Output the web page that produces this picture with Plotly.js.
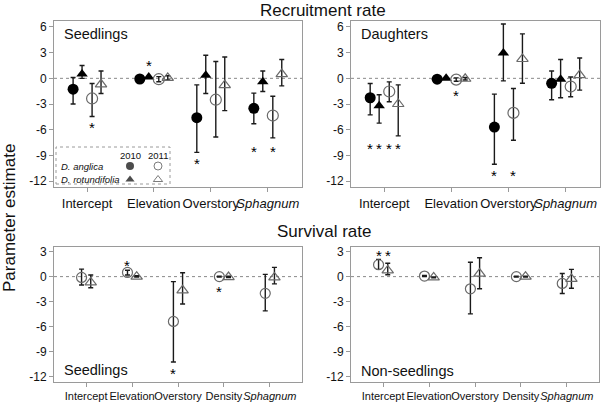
<!DOCTYPE html>
<html><head><meta charset="utf-8">
<script src="https://cdn.plot.ly/plotly-3.0.1.min.js"></script>
<style>html,body{margin:0;padding:0;background:#fff}#chart{width:609px;height:402px}</style>
</head><body><div id="chart"></div>
<script>
// ---------- DATA ----------
const recruitCats = ['Intercept', 'Elevation', 'Overstory', '<i>Sphagnum</i>'];
const survivalCats = ['Intercept', 'Elevation', 'Overstory', 'Density', '<i>Sphagnum</i>'];
const recruitTicks = [-12, -9, -6, -3, 0, 3, 6];
const recruitTickText = ['-12', '-9', '-6', '-3', '0', '3', '6'];
const survivalTicks = [-12, -9, -6, -3, 0, 3];
const survivalTickText = ['-12', '-9', '-6', '-3', '0', '3'];

// Recruitment rate - Seedlings
const recSeedAng2010Est = [-1.27, -0.08, -4.6, -3.5];
const recSeedAng2010Lo  = [-3.0, -0.12, -8.65, -5.3];
const recSeedAng2010Hi  = [0.1, -0.04, -0.77, -1.73];
const recSeedAng2010Sig = [null, null, -9.65, -8.2];
const recSeedRot2010Est = [0.5, 0.15, 0.35, -0.4];
const recSeedRot2010Lo  = [0.0, 0.1, -1.77, -1.54];
const recSeedRot2010Hi  = [1.5, 0.2, 2.7, 0.85];
const recSeedRot2010Sig = [null, 1.8, null, null];
const recSeedAng2011Est = [-2.35, -0.1, -2.5, -4.35];
const recSeedAng2011Lo  = [-4.46, -0.4, -6.85, -6.96];
const recSeedAng2011Hi  = [-0.6, 0.2, 1.96, -2.1];
const recSeedAng2011Sig = [-5.4, null, null, -8.25];
const recSeedRot2011Est = [-0.7, 0.05, -0.8, 0.5];
const recSeedRot2011Lo  = [-1.77, -0.2, -3.77, -0.88];
const recSeedRot2011Hi  = [0.85, 0.3, 2.5, 2.2];
const recSeedRot2011Sig = [null, null, null, null];

// Recruitment rate - Daughters
const recDauAng2010Est = [-2.27, -0.1, -5.7, -0.58];
const recDauAng2010Lo  = [-4.27, -0.2, -10.04, -2.5];
const recDauAng2010Hi  = [-0.6, 0.0, -1.85, 0.85];
const recDauAng2010Sig = [-7.8, null, -11.0, null];
const recDauRot2010Est = [-3.2, 0.0, 2.95, -0.1];
const recDauRot2010Lo  = [-5.23, -0.05, -0.3, -2.27];
const recDauRot2010Hi  = [-1.92, 0.05, 6.35, 2.2];
const recDauRot2010Sig = [-7.8, null, null, null];
const recDauAng2011Est = [-1.54, -0.15, -4.04, -0.96];
const recDauAng2011Lo  = [-2.73, -0.35, -7.23, -2.15];
const recDauAng2011Hi  = [-0.42, 0.05, -1.19, 0.15];
const recDauAng2011Sig = [-7.8, -1.65, -11.0, null];
const recDauRot2011Est = [-3.0, -0.05, 2.26, 0.38];
const recDauRot2011Lo  = [-6.73, -0.2, -0.58, -1.38];
const recDauRot2011Hi  = [-0.77, 0.1, 5.2, 2.38];
const recDauRot2011Sig = [-7.8, null, null, null];

// Survival rate - Seedlings (2011 only)
const surSeedAngEst = [-0.1, 0.5, -5.36, 0.0, -2.0];
const surSeedAngLo  = [-1.0, 0.2, -10.2, -0.05, -4.1];
const surSeedAngHi  = [0.9, 0.76, -0.6, 0.05, 0.27];
const surSeedAngSig = [null, 1.7, -11.2, -1.44, null];
const surSeedRotEst = [-0.7, 0.0, -1.64, -0.05, -0.1];
const surSeedRotLo  = [-1.33, -0.05, -3.27, -0.1, -0.87];
const surSeedRotHi  = [0.2, 0.1, 0.46, 0.05, 1.1];
const surSeedRotSig = [null, null, null, null, null];

// Survival rate - Non-seedlings (2011 only)
const surNonAngEst = [1.42, 0.07, -1.46, 0.0, -0.82];
const surNonAngLo  = [0.86, 0.0, -4.46, -0.05, -2.02];
const surNonAngHi  = [2.06, 0.15, 1.72, 0.05, 0.37];
const surNonAngSig = [2.9, null, null, null, null];
const surNonRotEst = [0.74, -0.1, 0.36, 0.0, -0.27];
const surNonRotLo  = [0.22, -0.15, -1.46, -0.05, -1.39];
const surNonRotHi  = [1.6, -0.05, 2.25, 0.05, 0.86];
const surNonRotSig = [2.9, null, null, null, null];

// ---------- LAYOUT CONSTANTS ----------
const FONT = 'Liberation Sans, Arial, Helvetica, sans-serif';
const W = 609, H = 402;
const topGroupPos = [0.58, 1.75, 2.75, 3.75];
const topRange = [0, 4.35];
const topOffsets = [-0.245, -0.088, 0.088, 0.245];
const botGroupPos = [0.7, 1.7, 2.7, 3.7, 4.7];
const botRange = [0, 5.4];
const botOffsets = [-0.1, 0.1];
const px = (a, b) => [a / W, b / W];
const py = (top, bottom) => [1 - bottom / H, 1 - top / H];

const styles = {
  ang2010: {symbol: 'circle', color: '#000', size: 11, line: {width: 0}},
  rot2010: {symbol: 'triangle-up', color: '#000', size: 10, line: {width: 0}},
  ang2011: {symbol: 'circle-open', color: '#6a6a6a', size: 11, line: {width: 1.2, color: '#6a6a6a'}},
  rot2011: {symbol: 'triangle-up-open', color: '#6a6a6a', size: 10, line: {width: 1.2, color: '#6a6a6a'}}
};

const traces = [];
const annotations = [];

function addSeries(est, lo, hi, sig, groupPos, offset, style, xa, ya, sz) {
  const xs = est.map((_, i) => groupPos[i] + offset);
  traces.push({
    type: 'scatter', mode: 'markers', x: xs, y: est, xaxis: xa, yaxis: ya,
    marker: {symbol: style.symbol, color: style.color, size: sz || style.size, line: style.line},
    error_y: {type: 'data', symmetric: false,
      array: hi.map((h, i) => h - est[i]), arrayminus: lo.map((l, i) => est[i] - l),
      color: '#1a1a1a', thickness: 1.4, width: 2.5},
    showlegend: false, hoverinfo: 'skip', cliponaxis: false
  });
  sig.forEach((s, i) => {
    if (s === null) return;
    annotations.push({xref: xa, yref: ya, x: xs[i], y: s, text: '*', showarrow: false,
      font: {family: FONT, size: 15, color: '#000000'}, yshift: -3});
  });
}

// top-left
addSeries(recSeedAng2010Est, recSeedAng2010Lo, recSeedAng2010Hi, recSeedAng2010Sig, topGroupPos, topOffsets[0], styles.ang2010, 'x', 'y');
addSeries(recSeedRot2010Est, recSeedRot2010Lo, recSeedRot2010Hi, recSeedRot2010Sig, topGroupPos, topOffsets[1], styles.rot2010, 'x', 'y');
addSeries(recSeedAng2011Est, recSeedAng2011Lo, recSeedAng2011Hi, recSeedAng2011Sig, topGroupPos, topOffsets[2], styles.ang2011, 'x', 'y');
addSeries(recSeedRot2011Est, recSeedRot2011Lo, recSeedRot2011Hi, recSeedRot2011Sig, topGroupPos, topOffsets[3], styles.rot2011, 'x', 'y');
// top-right
addSeries(recDauAng2010Est, recDauAng2010Lo, recDauAng2010Hi, recDauAng2010Sig, topGroupPos, topOffsets[0], styles.ang2010, 'x2', 'y2');
addSeries(recDauRot2010Est, recDauRot2010Lo, recDauRot2010Hi, recDauRot2010Sig, topGroupPos, topOffsets[1], styles.rot2010, 'x2', 'y2');
addSeries(recDauAng2011Est, recDauAng2011Lo, recDauAng2011Hi, recDauAng2011Sig, topGroupPos, topOffsets[2], styles.ang2011, 'x2', 'y2');
addSeries(recDauRot2011Est, recDauRot2011Lo, recDauRot2011Hi, recDauRot2011Sig, topGroupPos, topOffsets[3], styles.rot2011, 'x2', 'y2');
// bottom-left
addSeries(surSeedAngEst, surSeedAngLo, surSeedAngHi, surSeedAngSig, botGroupPos, botOffsets[0], styles.ang2011, 'x3', 'y3', 10);
addSeries(surSeedRotEst, surSeedRotLo, surSeedRotHi, surSeedRotSig, botGroupPos, botOffsets[1], styles.rot2011, 'x3', 'y3', 10);
// bottom-right
addSeries(surNonAngEst, surNonAngLo, surNonAngHi, surNonAngSig, botGroupPos, botOffsets[0], styles.ang2011, 'x4', 'y4', 10);
addSeries(surNonRotEst, surNonRotLo, surNonRotHi, surNonRotSig, botGroupPos, botOffsets[1], styles.rot2011, 'x4', 'y4', 10);

// legend glyphs (pixel-space overlay axis)
traces.push({type: 'scatter', mode: 'markers', xaxis: 'x5', yaxis: 'y5',
  x: [130, 158, 130, 158], y: [166, 166, 179.5, 179.5],
  marker: {symbol: ['circle', 'circle-open', 'triangle-up', 'triangle-up-open'], size: [8, 8, 8, 8],
    color: ['#000', '#444', '#000', '#444'], line: {width: [0, 1, 0, 1], color: '#444'}},
  showlegend: false, hoverinfo: 'skip', cliponaxis: false});

function xAxis(domain, range, vals, text, size) {
  return {domain: domain, range: range, tickvals: vals, ticktext: text, tickangle: 0, showgrid: false, zeroline: false,
    showline: true, mirror: true, linecolor: '#9a9a9a', linewidth: 1, ticks: 'outside', ticklen: 4,
    tickcolor: '#9a9a9a', tickfont: {family: FONT, size: size, color: '#111'}, fixedrange: true};
}
function yAxis(domain, range, vals, text, anchor) {
  return {domain: domain, range: range, tickvals: vals, ticktext: text, anchor: anchor, showgrid: false,
    zeroline: false, showline: true, mirror: true, linecolor: '#9a9a9a', linewidth: 1, ticks: 'outside',
    ticklen: 4, tickcolor: '#9a9a9a', tickfont: {family: FONT, size: 12, color: '#111'}, fixedrange: true};
}

const layout = {
  width: W, height: H, margin: {l: 0, r: 0, t: 0, b: 0}, paper_bgcolor: '#fff', plot_bgcolor: 'rgba(0,0,0,0)',
  showlegend: false,
  xaxis: Object.assign(xAxis(px(54, 302), topRange, topGroupPos, recruitCats, 13), {anchor: 'y'}),
  yaxis: yAxis(py(21, 187), [-12.7, 6.7], recruitTicks, recruitTickText, 'x'),
  xaxis2: Object.assign(xAxis(px(351, 600), topRange, topGroupPos, recruitCats, 13), {anchor: 'y2'}),
  yaxis2: yAxis(py(21, 187), [-12.7, 6.7], recruitTicks, recruitTickText, 'x2'),
  xaxis3: Object.assign(xAxis(px(54, 302), botRange, botGroupPos, survivalCats, 11), {anchor: 'y3'}),
  yaxis3: yAxis(py(246.5, 382), [-12.6, 3.6], survivalTicks, survivalTickText, 'x3'),
  xaxis4: Object.assign(xAxis(px(351, 599), botRange, botGroupPos, survivalCats, 11), {anchor: 'y4'}),
  yaxis4: yAxis(py(246.5, 382), [-12.6, 3.6], survivalTicks, survivalTickText, 'x4'),
  xaxis5: {domain: [0, 1], range: [0, W], visible: false, anchor: 'y5', fixedrange: true},
  yaxis5: {domain: [0, 1], range: [H, 0], visible: false, anchor: 'x5', fixedrange: true},
  shapes: [
    {type: 'line', xref: 'x domain', yref: 'y', x0: 0, x1: 1, y0: 0, y1: 0, line: {color: '#8a8a8a', width: 1, dash: 'dot'}, layer: 'below'},
    {type: 'line', xref: 'x2 domain', yref: 'y2', x0: 0, x1: 1, y0: 0, y1: 0, line: {color: '#8a8a8a', width: 1, dash: 'dot'}, layer: 'below'},
    {type: 'line', xref: 'x3 domain', yref: 'y3', x0: 0, x1: 1, y0: 0, y1: 0, line: {color: '#8a8a8a', width: 1, dash: 'dot'}, layer: 'below'},
    {type: 'line', xref: 'x4 domain', yref: 'y4', x0: 0, x1: 1, y0: 0, y1: 0, line: {color: '#8a8a8a', width: 1, dash: 'dot'}, layer: 'below'},
    {type: 'rect', xref: 'paper', yref: 'paper', x0: 56 / W, x1: 170 / W, y0: 1 - 184 / H, y1: 1 - 147 / H,
      line: {color: '#9a9a9a', width: 1, dash: 'dot'}, fillcolor: 'rgba(0,0,0,0)'}
  ],
  annotations: annotations.concat([
    {xref: 'paper', yref: 'paper', x: 323 / W, y: 1 - 10 / H, text: 'Recruitment rate', showarrow: false, xanchor: 'center', yanchor: 'middle', font: {family: FONT, size: 17, color: '#111'}},
    {xref: 'paper', yref: 'paper', x: 324 / W, y: 1 - 231 / H, text: 'Survival rate', showarrow: false, xanchor: 'center', yanchor: 'middle', font: {family: FONT, size: 17, color: '#111'}},
    {xref: 'paper', yref: 'paper', x: 9 / W, y: 1 - 218 / H, text: 'Parameter estimate', textangle: -90, showarrow: false, xanchor: 'center', yanchor: 'middle', font: {family: FONT, size: 17, color: '#111'}},
    {xref: 'paper', yref: 'paper', x: 62 / W, y: 1 - 34 / H, text: 'Seedlings', showarrow: false, xanchor: 'left', yanchor: 'middle', font: {family: FONT, size: 14.5, color: '#111'}},
    {xref: 'paper', yref: 'paper', x: 359 / W, y: 1 - 34 / H, text: 'Daughters', showarrow: false, xanchor: 'left', yanchor: 'middle', font: {family: FONT, size: 14.5, color: '#111'}},
    {xref: 'paper', yref: 'paper', x: 62 / W, y: 1 - 370 / H, text: 'Seedlings', showarrow: false, xanchor: 'left', yanchor: 'middle', font: {family: FONT, size: 14.5, color: '#111'}},
    {xref: 'paper', yref: 'paper', x: 359 / W, y: 1 - 370.5 / H, text: 'Non-seedlings', showarrow: false, xanchor: 'left', yanchor: 'middle', font: {family: FONT, size: 14.5, color: '#111'}},
    {xref: 'paper', yref: 'paper', x: 130 / W, y: 1 - 155 / H, text: '2010', showarrow: false, xanchor: 'center', yanchor: 'middle', font: {family: FONT, size: 9.5, color: '#111'}},
    {xref: 'paper', yref: 'paper', x: 158 / W, y: 1 - 155 / H, text: '2011', showarrow: false, xanchor: 'center', yanchor: 'middle', font: {family: FONT, size: 9.5, color: '#111'}},
    {xref: 'paper', yref: 'paper', x: 59 / W, y: 1 - 166 / H, text: '<i>D. anglica</i>', showarrow: false, xanchor: 'left', yanchor: 'middle', font: {family: FONT, size: 9.5, color: '#111'}},
    {xref: 'paper', yref: 'paper', x: 59 / W, y: 1 - 179 / H, text: '<i>D. rotundifolia</i>', showarrow: false, xanchor: 'left', yanchor: 'middle', font: {family: FONT, size: 9.5, color: '#111'}}
  ])
};

Plotly.newPlot('chart', traces, layout, {staticPlot: true, displayModeBar: false});
</script>
</body></html>
